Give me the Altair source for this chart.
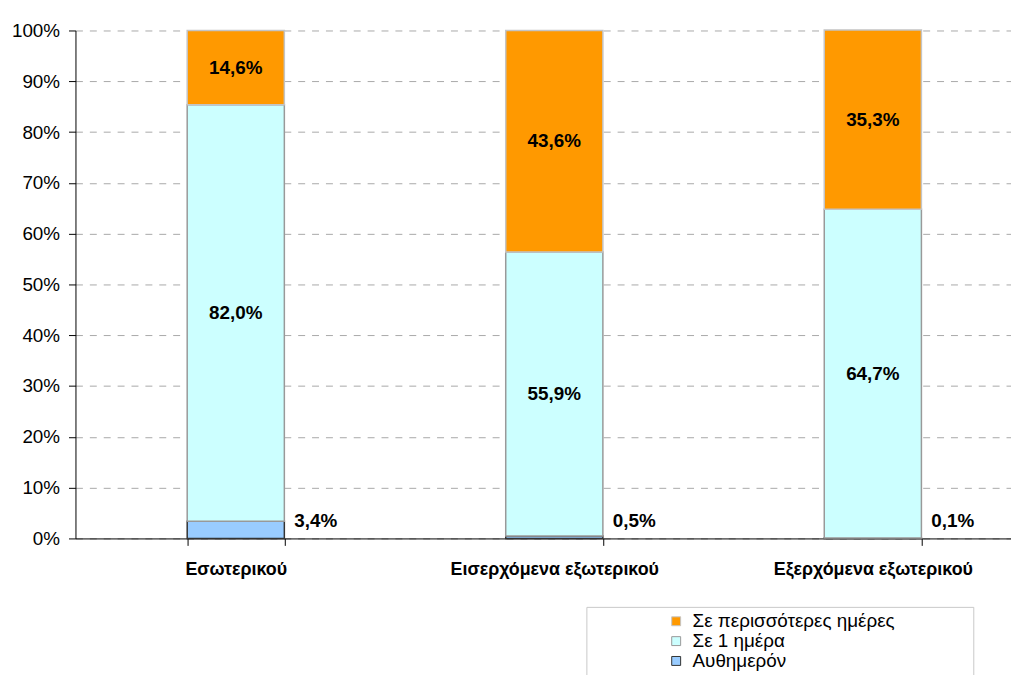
import altair as alt
import pandas as pd

categories = ["Εσωτερικού", "Εισερχόμενα εξωτερικού", "Εξερχόμενα εξωτερικού"]
series = ["Σε περισσότερες ημέρες", "Σε 1 ημέρα", "Αυθημερόν"]
same_day = [3.4, 0.5, 0.1]
one_day = [82.0, 55.9, 64.7]
more_days = [14.6, 43.6, 35.3]
y_ticks = [0, 10, 20, 30, 40, 50, 60, 70, 80, 90, 100]
colors = ["#FF9900", "#CCFFFF", "#99CCFF"]
strokes = ["#c4c4c4", "#999999", "#333333"]

rows = []
stack_series = [(series[2], same_day), (series[1], one_day), (series[0], more_days)]
for i, c in enumerate(categories):
    for order, (s, vals) in enumerate(stack_series):
        rows.append({"cat": c, "series": s, "value": vals[i], "ord": order})
df = pd.DataFrame(rows)

FONT = "Liberation Sans"

base = alt.Chart(df).transform_stack(
    stack="value", groupby=["cat"],
    sort=[alt.SortField("ord", order="ascending")],
    as_=["y0", "y1"],
).transform_calculate(
    mid="(datum.y0 + datum.y1) / 2",
    lbl="replace(format(datum.value, '.1f'), '.', ',') + '%'",
)

x_enc = alt.X(
    "cat:N", sort=categories,
    scale=alt.Scale(paddingInner=0.695, paddingOuter=0.316, align=0.555),
    axis=alt.Axis(title=None, labelAngle=0, labelFontWeight="bold", labelFontSize=18,
                  labelFont=FONT, labelColor="#000", labelLimit=500, tickBand="extent", tickSize=7,
                  tickColor="#000", domainColor="#000", labelPadding=15, grid=False),
)

y_scale = alt.Scale(domain=[0, 100], nice=False)

ZW = "\u200b"
legend_title = ZW + "\u00a0" * 27 + ZW
legend_pad = "\u00a0" * 14 + ZW
legend = alt.Legend(
    orient="none", legendX=515, legendY=581,
    title=legend_title, titleOrient="left", titleFontSize=10, titlePadding=0,
    padding=5, strokeColor="#c8c8c8",
    labelFont=FONT, labelFontSize=19, labelColor="#000", labelLimit=600,
    labelExpr="datum.label + '" + legend_pad + "'",
    symbolType="square", symbolSize=81, symbolStrokeWidth=1, rowPadding=0, labelOffset=7,
)

bars = base.mark_bar(strokeWidth=1.5).encode(
    x=x_enc,
    y=alt.Y("y0:Q", scale=y_scale,
            axis=alt.Axis(title=None, values=y_ticks, labelExpr="datum.value + '%'",
                          labelFont=FONT, labelFontSize=19, labelColor="#000",
                          tickSize=7, tickColor="#000", domainColor="#000", labelPadding=9,
                          grid=True, gridDash=[7, 7], gridColor="#a8a8a8", gridWidth=1)),
    y2="y1:Q",
    fill=alt.Fill("series:N", scale=alt.Scale(domain=series, range=colors), legend=legend),
    stroke=alt.Stroke("series:N", scale=alt.Scale(domain=series, range=strokes), legend=legend),
)

center_labels = base.transform_filter("datum.ord > 0").mark_text(
    font=FONT, fontSize=19, fontWeight="bold", color="#000", baseline="middle"
).encode(x=x_enc, y=alt.Y("mid:Q", scale=y_scale), text="lbl:N")

small_labels = base.transform_filter("datum.ord == 0").mark_text(
    font=FONT, fontSize=19, fontWeight="bold", color="#000", baseline="middle",
    align="left", dx=59, dy=-18
).encode(x=x_enc, y=alt.Y("y0:Q", scale=y_scale), text="lbl:N")

chart = alt.layer(bars, center_labels, small_labels).properties(
    width=943, height=512,
    autosize=alt.AutoSizeParams(type="none"),
    padding={"left": 68, "top": 20, "right": 0, "bottom": 135},
).configure_view(stroke=None)

chart.save("out.html", embed_options={"renderer": "svg", "actions": False})
